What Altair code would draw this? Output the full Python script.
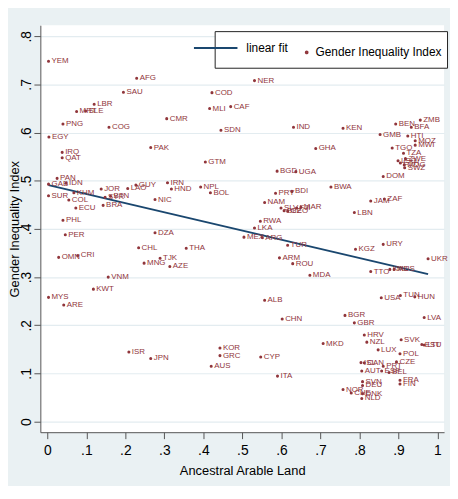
import altair as alt
import pandas as pd

codes = ["YEM","AFG","SAU","LBR","MRT","SLE","PNG","COG","EGY","IRQ","QAT","PAK",
         "NER","COD","MLI","CAF","CMR","SDN","IND","GTM","KEN","GHA","BEN","ZMB",
         "BFA","GMB","HTI","MOZ","MWI","TGO","TZA","ZWE","LSO","ETH","MDG","SWZ",
         "DOM","JAM","ZAF","BWA","LBN","UGA","BGD","PRY","BDI","NAM","SLV","BLZ",
         "GEO","FJI","MAR","RWA","LKA","MEX","ARG","TUR","ARM","ROU","MDA","ALB",
         "CHN","IRN","HND","NPL","BOL","NIC","DZA","THA","TJK","MNG","AZE","CHL",
         "GUY","LAO","JOR","SYR","BTN","BRA","ECU","COL","SUR","KHM","IDN","PAN",
         "GAB","PHL","PER","OMN","CRI","VNM","KWT","MYS","ARE","KGZ","URY","UKR",
         "TTO","KAZ","MUS","USA","TUN","HUN","LVA","BGR","GBR","MKD","HRV","NZL",
         "LUX","SVK","EST","LTU","POL","CZE","ISL","CAN","PRT","AUT","ESP","BEL",
         "FRA","FIN","SVN","DEU","NOR","CHE","DNK","NLD","JPN","KOR","GRC","AUS",
         "CYP","ITA","ISR"]

arable = [0.003,0.229,0.195,0.120,0.075,0.098,0.040,0.158,0.004,0.038,0.038,0.265,
          0.531,0.422,0.416,0.470,0.306,0.445,0.631,0.405,0.758,0.688,0.893,0.956,
          0.933,0.853,0.924,0.943,0.943,0.884,0.913,0.918,0.899,0.905,0.915,0.916,
          0.861,0.829,0.864,0.727,0.787,0.637,0.589,0.585,0.627,0.557,0.599,0.607,
          0.616,0.639,0.650,0.546,0.531,0.504,0.551,0.616,0.595,0.629,0.673,0.557,
          0.602,0.308,0.318,0.393,0.418,0.276,0.276,0.356,0.289,0.248,0.314,0.234,
          0.227,0.206,0.138,0.148,0.162,0.143,0.073,0.055,0.003,0.068,0.048,0.025,
          0.003,0.040,0.046,0.029,0.078,0.156,0.118,0.003,0.042,0.790,0.861,0.976,
          0.829,0.878,0.889,0.856,0.905,0.942,0.966,0.763,0.787,0.707,0.8125,0.819,
          0.848,0.907,0.960,0.966,0.904,0.895,0.804,0.8125,0.861,0.806,0.857,0.876,
          0.904,0.904,0.808,0.808,0.758,0.779,0.808,0.806,0.265,0.4425,0.4425,0.420,
          0.547,0.590,0.209]

gii = [0.748,0.713,0.684,0.659,0.644,0.645,0.618,0.611,0.591,0.559,0.548,0.569,
       0.708,0.683,0.650,0.654,0.629,0.605,0.611,0.539,0.609,0.567,0.618,0.626,
       0.611,0.596,0.593,0.583,0.574,0.568,0.557,0.546,0.5415,0.537,0.533,0.527,
       0.509,0.458,0.462,0.487,0.434,0.519,0.520,0.474,0.478,0.455,0.4435,0.438,
       0.437,0.4435,0.445,0.416,0.402,0.383,0.382,0.366,0.340,0.328,0.304,0.252,
       0.213,0.496,0.483,0.487,0.475,0.461,0.392,0.360,0.339,0.329,0.322,0.361,
       0.491,0.484,0.483,0.466,0.468,0.449,0.4435,0.460,0.469,0.475,0.495,0.505,
       0.493,0.418,0.388,0.341,0.345,0.300,0.275,0.258,0.242,0.358,0.368,0.338,
       0.3115,0.316,0.316,0.257,0.262,0.259,0.216,0.2205,0.205,0.162,0.180,0.165,
       0.149,0.170,0.160,0.159,0.141,0.124,0.1225,0.122,0.115,0.105,0.105,0.102,
       0.086,0.078,0.083,0.075,0.0665,0.0595,0.058,0.048,0.131,0.153,0.137,0.115,
       0.134,0.0945,0.1445]

legend_labels = ["linear fit", "Gender Inequality Index"]
palette = ["#1a476f", "#90353b"]
x_ticks = [0, 0.1, 0.2, 0.3, 0.4, 0.5, 0.6, 0.7, 0.8, 0.9, 1]
y_ticks = [0, 0.1, 0.2, 0.3, 0.4, 0.5, 0.6, 0.7, 0.8]

df = pd.DataFrame({"code": codes, "arable": arable, "gii": gii})
df["series"] = "Gender Inequality Index"

FONT = "Liberation Sans"
lbl = ("datum.value == 0 ? '0' : datum.value == 1 ? '1' : "
       "replace(format(datum.value, '.1f'), '0.', '.')")

W, H = 408.3, 411.6

# legend glyphs: a line swatch and a small dot (slot 22 px wide, 11 px per unit)
LINE_PATH = "M0.55,-1M0.55,1M-3.45,0H0.55"
DOT_PATH = "M0.47,0A0.08,0.08 0 1,0 0.63,0A0.08,0.08 0 1,0 0.47,0Z"
PT_SIZE = 400          # sqrt(400)/2 = 10 px per path unit on the plot
PT_SHIFT = -5.5        # cancels the 0.55-unit offset of the dot path on the plot

x_enc = alt.X(
    "arable:Q",
    scale=alt.Scale(domain=[-0.018, 1.017], nice=False, zero=False),
    axis=alt.Axis(values=x_ticks, labelExpr=lbl, title="Ancestral Arable Land",
                  grid=False, tickSize=6.5, labelPadding=5, labelFont=FONT,
                  labelFontSize=14, labelColor="black", titleFont=FONT,
                  titleFontSize=13, titleFontWeight="normal", titleColor="black",
                  titleX=W / 2, titleY=42.4, titleBaseline="alphabetic",
                  titleAlign="center", domainColor="#555", tickColor="#555"),
)
y_enc = alt.Y(
    "gii:Q",
    scale=alt.Scale(domain=[-0.022, 0.823], nice=False, zero=False),
    axis=alt.Axis(values=y_ticks, labelExpr=lbl, title="Gender Inequality Index",
                  grid=True, gridColor="#E3ECF0", gridWidth=1.2, tickSize=6.5,
                  labelPadding=3, labelAngle=270, labelAlign="center",
                  labelBaseline="alphabetic", labelFont=FONT, labelFontSize=14,
                  labelColor="black", titleFont=FONT, titleFontSize=13,
                  titleFontWeight="normal", titleColor="black", titleAngle=270,
                  titleAlign="center", titleBaseline="alphabetic", titleX=-22.3,
                  titleY=H / 2, domainColor="#555", tickColor="#555"),
)

legend = alt.Legend(title=None, orient="none", legendX=176.3, legendY=6,
                    direction="horizontal", symbolSize=484, labelOffset=3,
                    columnPadding=0, padding=5, strokeColor="#222",
                    fillColor="white", labelFont=FONT, labelFontSize=12,
                    labelColor="black", symbolStrokeWidth=2)

color_enc = alt.Color("series:N", scale=alt.Scale(domain=legend_labels, range=palette),
                      legend=legend)
shape_enc = alt.Shape("series:N", scale=alt.Scale(domain=legend_labels,
                                                  range=[LINE_PATH, DOT_PATH]),
                      legend=legend)

base = alt.Chart(df)

fit = (base.transform_regression("arable", "gii")
       .transform_calculate(series="'linear fit'")
       .mark_line(strokeWidth=2)
       .encode(x=x_enc, y=y_enc, color=color_enc))

pts = base.mark_point(filled=False, size=PT_SIZE, strokeWidth=1.5, opacity=1,
                      xOffset=PT_SHIFT).encode(x=x_enc, y=y_enc, color=color_enc,
                                               shape=shape_enc)

labels = base.mark_text(align="left", baseline="middle", dx=3, fontSize=8,
                        font=FONT, color="#90353b").encode(x=x_enc, y=y_enc, text="code:N")

chart = (alt.layer(fit, pts, labels)
         .properties(width=W, height=H,
                     autosize=alt.AutoSizeParams(type="none"),
                     padding={"left": 32.7, "top": 14.7, "right": 6, "bottom": 52})
         .configure(background="#EAF1F3")
         .configure_view(fill="white", stroke=None))

chart.save("out.html", embed_options={"renderer": "svg", "actions": False})
